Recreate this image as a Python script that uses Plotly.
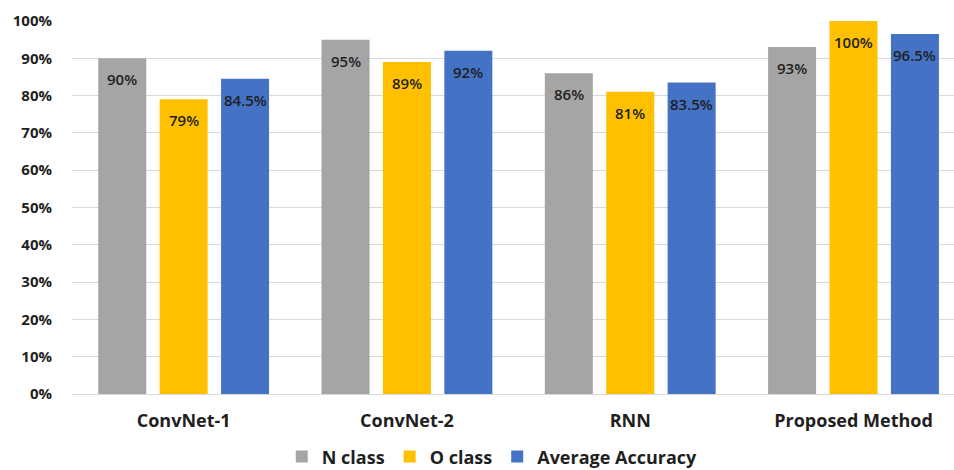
import plotly.graph_objects as go

# Accuracy per model and class
models = ["ConvNet-1", "ConvNet-2", "RNN", "Proposed Method"]
series_names = ["N class", "O class", "Average Accuracy"]
n_class = [0.90, 0.95, 0.86, 0.93]
o_class = [0.79, 0.89, 0.81, 1.00]
avg_acc = [0.845, 0.92, 0.835, 0.965]
n_labels = ["90%", "95%", "86%", "93%"]
o_labels = ["79%", "89%", "81%", "100%"]
avg_labels = ["84.5%", "92%", "83.5%", "96.5%"]
y_ticks = [i / 10 for i in range(11)]

colors = ["#A5A5A5", "#FFC000", "#4472C4"]
values = [n_class, o_class, avg_acc]
labels = [n_labels, o_labels, avg_labels]
centers = [-0.275, 0.0, 0.275]
bar_w = 0.215
font_family = "'Open Sans', Lato, sans-serif"

fig = go.Figure()
annotations = []
for name, vals, labs, col, c in zip(series_names, values, labels, colors, centers):
    fig.add_trace(go.Bar(
        name=name, x=models, y=vals,
        width=bar_w, offset=c - bar_w / 2,
        marker=dict(color=col, line=dict(width=0)),
    ))
    for i, (v, t) in enumerate(zip(vals, labs)):
        annotations.append(dict(
            x=i + c, y=v, xref="x", yref="y", text=t,
            showarrow=False, yshift=-21, yanchor="middle", xanchor="center",
            font=dict(family=font_family, size=15, color="#1f1f1f", weight=600),
        ))

fig.update_layout(
    width=954, height=470,
    margin=dict(l=72, r=0, t=21, b=76),
    paper_bgcolor="white", plot_bgcolor="white",
    barmode="overlay",
    annotations=annotations,
    showlegend=True,
    legend=dict(
        orientation="h", xref="container", yref="container",
        x=0.516, xanchor="center", y=0.028, yanchor="middle",
        font=dict(family=font_family, size=18, color="#1f1f1f", weight="bold"),
        tracegroupgap=0,
    ),
    xaxis=dict(
        type="category", range=[-0.5, 3.45],
        showgrid=False, showline=False, ticks="",
        tickfont=dict(family=font_family, size=18, color="#1f1f1f", weight="bold"),
        ticklabelstandoff=14,
    ),
    yaxis=dict(
        range=[0, 1.0], tickvals=y_ticks, tickformat=".0%",
        showgrid=True, gridcolor="#D9D9D9", gridwidth=1,
        zeroline=True, zerolinecolor="#D9D9D9", zerolinewidth=1,
        showline=False, ticks="",
        tickfont=dict(family=font_family, size=15, color="#1f1f1f", weight="bold"),
        ticklabelstandoff=19,
    ),
)

fig.write_html("out.html")
